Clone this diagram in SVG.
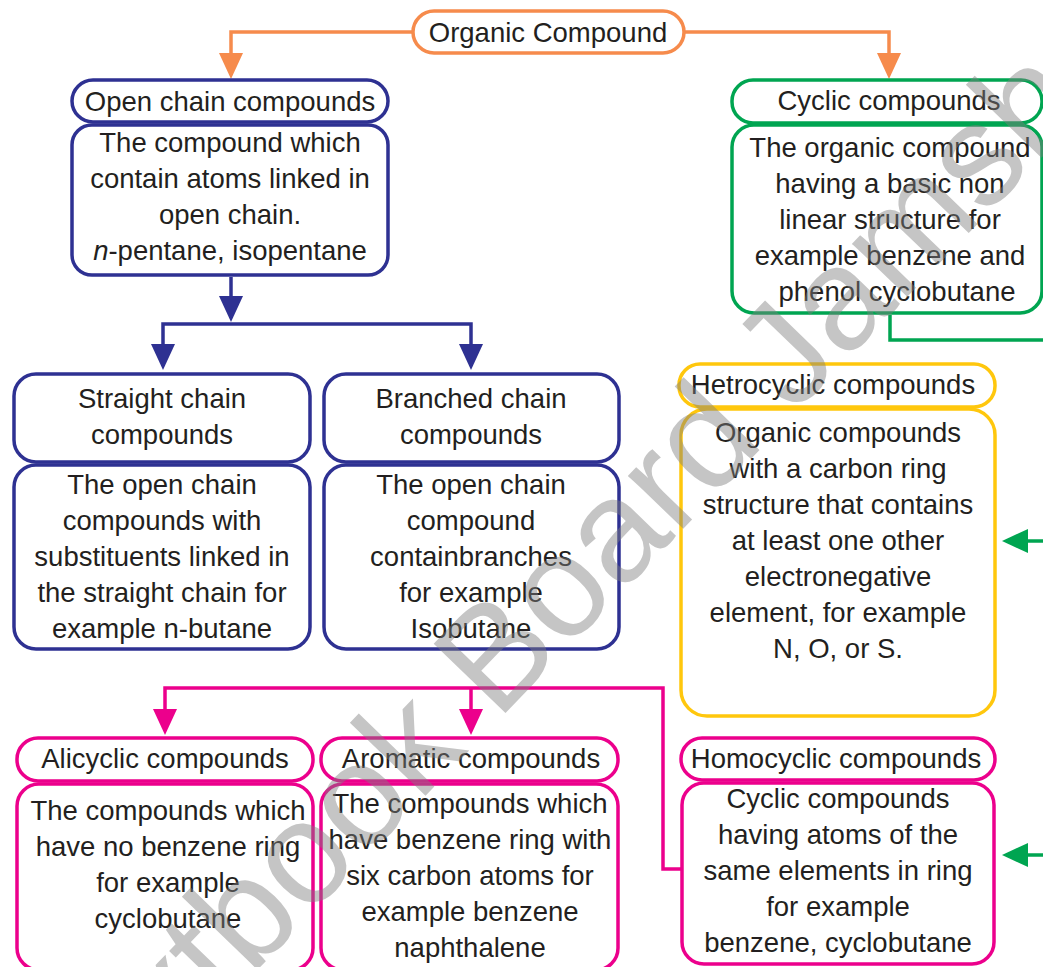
<svg xmlns="http://www.w3.org/2000/svg" width="1043" height="967" viewBox="0 0 1043 967">
<style>
.t{font-family:"Liberation Sans",Arial,sans-serif;font-size:27.5px;fill:#231f20;text-anchor:middle}
.box{fill:#fff;stroke-width:3.5}
.or{stroke:#f68b4c}.nv{stroke:#2e3192}.gr{stroke:#00a551}.ye{stroke:#ffc70d}.pk{stroke:#ec008c}
.ln{fill:none;stroke-width:3.5}
.wm{font-family:"Liberation Sans",Arial,sans-serif;font-size:145px;fill:#7f7f7f;opacity:0.45}
</style>
<defs>
<marker id="aOr" markerUnits="userSpaceOnUse" markerWidth="26" markerHeight="24" refX="22" refY="12" orient="auto"><path d="M0,0 L26,12 L0,24 Z" fill="#f68b4c"/></marker>
<marker id="aNv" markerUnits="userSpaceOnUse" markerWidth="26" markerHeight="24" refX="22" refY="12" orient="auto"><path d="M0,0 L26,12 L0,24 Z" fill="#2e3192"/></marker>
<marker id="aGr" markerUnits="userSpaceOnUse" markerWidth="26" markerHeight="24" refX="22" refY="12" orient="auto"><path d="M0,0 L26,12 L0,24 Z" fill="#00a551"/></marker>
<marker id="aPk" markerUnits="userSpaceOnUse" markerWidth="26" markerHeight="24" refX="22" refY="12" orient="auto"><path d="M0,0 L26,12 L0,24 Z" fill="#ec008c"/></marker>
</defs>
<rect width="1043" height="967" fill="#fff"/>
<g id="connectors">
<path class="ln or" d="M413,32 H231 V75" marker-end="url(#aOr)"/>
<path class="ln or" d="M684,32 H889 V75" marker-end="url(#aOr)"/>
<path class="ln nv" d="M231,277 V318" marker-end="url(#aNv)"/>
<path class="ln nv" d="M231,324 H163 V366" marker-end="url(#aNv)"/>
<path class="ln nv" d="M231,324 H471 V366" marker-end="url(#aNv)"/>
<path class="ln gr" d="M890,315 V340 H1045"/>
<path class="ln gr" d="M1045,541 H1006" marker-end="url(#aGr)"/>
<path class="ln gr" d="M1045,855 H1006" marker-end="url(#aGr)"/>
<path class="ln pk" d="M682,869 H663 V688 H165 V731" marker-end="url(#aPk)"/>
<path class="ln pk" d="M471,688 V731" marker-end="url(#aPk)"/>
</g>
<g id="organic">
<rect class="box or" x="413" y="11" width="271" height="42" rx="21"/>
<text class="t" x="548" y="42">Organic Compound</text>
</g>
<g id="open-chain">
<rect class="box nv" x="72" y="80" width="316" height="42" rx="21"/>
<text class="t" x="230" y="111">Open chain compounds</text>
<rect class="box nv" x="72" y="125" width="316" height="150" rx="20"/>
<text class="t" x="230" y="152">The compound which</text>
<text class="t" x="230" y="188">contain atoms linked in</text>
<text class="t" x="230" y="224">open chain.</text>
<text class="t" x="230" y="260"><tspan font-style="italic">n</tspan>-pentane, isopentane</text>
</g>
<g id="straight-chain">
<rect class="box nv" x="14" y="374" width="296" height="88" rx="22"/>
<text class="t" x="162" y="408">Straight chain</text>
<text class="t" x="162" y="444">compounds</text>
<rect class="box nv" x="14" y="465" width="296" height="184" rx="22"/>
<text class="t" x="162" y="494">The open chain</text>
<text class="t" x="162" y="530">compounds with</text>
<text class="t" x="162" y="566">substituents linked in</text>
<text class="t" x="162" y="602">the straight chain  for</text>
<text class="t" x="162" y="638">example n-butane</text>
</g>
<g id="branched-chain">
<rect class="box nv" x="324" y="374" width="295" height="88" rx="22"/>
<text class="t" x="471" y="408">Branched chain</text>
<text class="t" x="471" y="444">compounds</text>
<rect class="box nv" x="324" y="465" width="295" height="184" rx="22"/>
<text class="t" x="471" y="494">The open chain</text>
<text class="t" x="471" y="530">compound</text>
<text class="t" x="471" y="566">containbranches</text>
<text class="t" x="471" y="602">for example</text>
<text class="t" x="471" y="638">Isobutane</text>
</g>
<g id="cyclic">
<rect class="box gr" x="732" y="80" width="310" height="43" rx="21"/>
<text class="t" x="889" y="110">Cyclic compounds</text>
<rect class="box gr" x="732" y="125" width="310" height="188" rx="22"/>
<text class="t" x="890" y="157">The organic compound</text>
<text class="t" x="890" y="193">having a basic non</text>
<text class="t" x="890" y="229">linear structure for</text>
<text class="t" x="890" y="265">example benzene and</text>
<text class="t" x="897" y="301">phenol cyclobutane</text>
</g>
<g id="heterocyclic">
<rect class="box ye" x="679" y="364" width="316" height="43" rx="21"/>
<text class="t" x="833" y="394">Hetrocyclic compounds</text>
<rect class="box ye" x="681" y="409" width="314" height="307" rx="26"/>
<text class="t" x="838" y="442">Organic compounds</text>
<text class="t" x="838" y="478">with a carbon ring</text>
<text class="t" x="838" y="514">structure that contains</text>
<text class="t" x="838" y="550">at least one other</text>
<text class="t" x="838" y="586">electronegative</text>
<text class="t" x="838" y="622">element, for example</text>
<text class="t" x="838" y="658">N, O, or S.</text>
</g>
<g id="alicyclic">
<rect class="box pk" x="17" y="738" width="296" height="43" rx="21"/>
<text class="t" x="165" y="768">Alicyclic compounds</text>
<rect class="box pk" x="17" y="784" width="296" height="186" rx="22"/>
<text class="t" x="168" y="820">The compounds which</text>
<text class="t" x="168" y="856">have no benzene ring</text>
<text class="t" x="168" y="892">for example</text>
<text class="t" x="168" y="928">cyclobutane</text>
</g>
<g id="aromatic">
<rect class="box pk" x="321" y="738" width="297" height="43" rx="21"/>
<text class="t" x="471" y="768">Aromatic compounds</text>
<rect class="box pk" x="321" y="784" width="297" height="186" rx="22"/>
<text class="t" x="470" y="813">The compounds which</text>
<text class="t" x="470" y="849">have benzene ring with</text>
<text class="t" x="470" y="885">six carbon atoms for</text>
<text class="t" x="470" y="921">example benzene</text>
<text class="t" x="470" y="957">naphthalene</text>
</g>
<g id="homocyclic">
<rect class="box pk" x="681" y="738" width="314" height="42" rx="21"/>
<text class="t" x="836" y="768">Homocyclic compounds</text>
<rect class="box pk" x="682" y="783" width="312" height="181" rx="22"/>
<text class="t" x="838" y="808">Cyclic compounds</text>
<text class="t" x="838" y="844">having atoms of the</text>
<text class="t" x="838" y="880">same elements in ring</text>
<text class="t" x="838" y="916">for example</text>
<text class="t" x="838" y="952">benzene, cyclobutane</text>
</g>
<text class="wm" transform="translate(66,1168) rotate(-46)">Textbook Board Jamshoro</text>
</svg>
